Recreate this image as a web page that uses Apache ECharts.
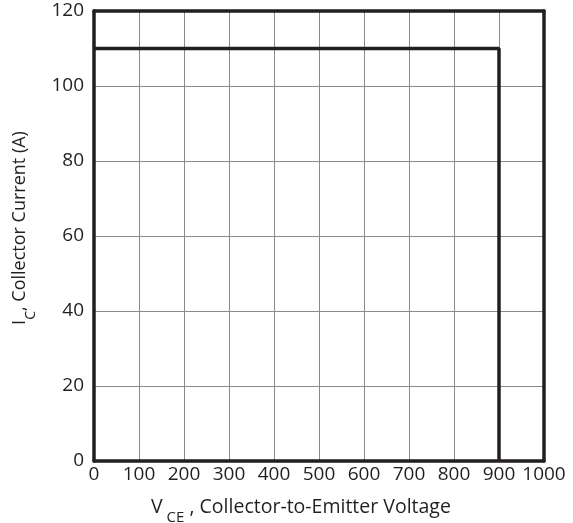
<!DOCTYPE html>
<html>
<head>
<meta charset="utf-8">
<script src="https://cdn.jsdelivr.net/npm/echarts@6/dist/echarts.min.js"></script>
<style>
  html, body { margin: 0; padding: 0; background: #fff; }
  #chart { width: 573px; height: 523px; }
</style>
</head>
<body>
<div id="chart"></div>
<script>
// Safe operating area boundary: collector-emitter voltage (V) vs collector current (A)
const voltage = [0, 900, 900];
const current = [110, 110, 0];

const xTicks = [0, 100, 200, 300, 400, 500, 600, 700, 800, 900, 1000];
const yTicks = [0, 20, 40, 60, 80, 100, 120];

const ink = '#231f20';
const gridGray = '#8a8a8a';
const font = '"Open Sans", "Noto Sans", sans-serif';

const chart = echarts.init(document.getElementById('chart'), null, { renderer: 'canvas' });

const frameLine = { show: true, onZero: false, lineStyle: { color: ink, width: 3.5 } };
const nameRich = (size, subSize) => ({
  v: { fontSize: size, fontFamily: font, color: ink, lineHeight: 36, verticalAlign: 'middle' },
  sub: { fontSize: subSize, fontFamily: font, color: ink, lineHeight: 36, verticalAlign: 'bottom' },
  n: { fontSize: size, fontFamily: font, color: ink, lineHeight: 36, verticalAlign: 'middle' }
});

chart.setOption({
  animation: false,
  backgroundColor: '#ffffff',
  textStyle: { fontFamily: font, color: ink },
  grid: { left: 94, right: 29, top: 11, bottom: 62, outerBoundsMode: 'none', containLabel: false },
  xAxis: [{
    type: 'value',
    position: 'bottom',
    min: xTicks[0], max: xTicks[xTicks.length - 1], interval: 100,
    axisLine: frameLine,
    axisTick: { show: false },
    splitLine: { show: true, lineStyle: { color: gridGray, width: 1 } },
    axisLabel: { color: ink, fontSize: 19, fontFamily: font, margin: 4, formatter: v => String(v) },
    name: '{v|V}{sub| CE}{n| , Collector-to-Emitter Voltage}',
    nameLocation: 'middle',
    nameGap: 28,
    nameTextStyle: { rich: nameRich(19.5, 15), padding: [0, 36, 0, 0] }
  }, {
    // top edge of the frame
    type: 'value',
    position: 'top',
    min: xTicks[0], max: xTicks[xTicks.length - 1], interval: 100,
    axisLine: frameLine,
    axisTick: { show: false },
    axisLabel: { show: false },
    splitLine: { show: false }
  }],
  yAxis: [{
    type: 'value',
    position: 'left',
    min: yTicks[0], max: yTicks[yTicks.length - 1], interval: 20,
    axisLine: frameLine,
    axisTick: { show: false },
    splitLine: { show: true, lineStyle: { color: gridGray, width: 1 } },
    axisLabel: { color: ink, fontSize: 19, fontFamily: font, margin: 10 },
    name: '{v|I}{sub|C}{n|, Collector Current (A)}',
    nameLocation: 'middle',
    nameGap: 56,
    nameRotate: 90,
    nameTextStyle: { rich: nameRich(18, 14), padding: [0, 0, 0, 16] }
  }, {
    // right edge of the frame
    type: 'value',
    position: 'right',
    min: yTicks[0], max: yTicks[yTicks.length - 1], interval: 20,
    axisLine: frameLine,
    axisTick: { show: false },
    axisLabel: { show: false },
    splitLine: { show: false }
  }],
  series: [{
    type: 'line',
    data: voltage.map((v, i) => [v, current[i]]),
    showSymbol: false,
    lineStyle: { color: ink, width: 3.5 },
    z: 5
  }]
});
</script>
</body>
</html>
